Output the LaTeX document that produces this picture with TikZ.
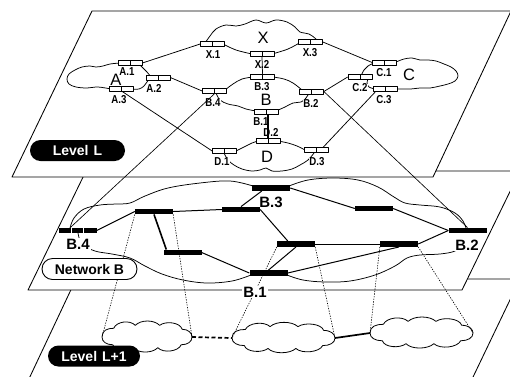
\documentclass[tikz,border=0pt]{standalone}
\usepackage{fontspec}
\setmainfont{Liberation Sans}
\usetikzlibrary{calc}
\newcommand\nar[1]{\scalebox{0.84}[1]{#1}}
\tikzset{
  cloudpic/.pic={
    \draw[line width=0.8pt,fill=white] (0,0)
      .. controls (0,-7) and (6,-9) .. (13,-9)
      .. controls (16,-16) and (31,-18) .. (37,-12)
      .. controls (43,-18) and (58,-18) .. (64,-12)
      .. controls (71,-17) and (87,-15) .. (89,-8)
      .. controls (96,-8) and (100,-4) .. (100,0)
      .. controls (100,5) and (95,8) .. (88,8)
      .. controls (85,15) and (68,17) .. (62,11)
      .. controls (56,17) and (40,17) .. (35,11)
      .. controls (29,16) and (14,15) .. (12,8)
      .. controls (5,8) and (0,5) .. (0,0) -- cycle;
    \coordinate (-L) at (0,0);
    \coordinate (-R) at (100,0);
  }
}
\begin{document}
\begin{tikzpicture}[x=1pt,y=-1pt,line join=round,
  plane/.style={draw,fill=white,line width=0.85pt},
  gw/.style={draw,fill=white,rectangle,minimum width=24pt,minimum height=4.8pt,inner sep=0pt,line width=0.7pt,
    path picture={\draw[line width=0.7pt] (path picture bounding box.north) -- (path picture bounding box.south);}},
  glab/.style={font=\fontsize{11.5}{11.5}\selectfont\bfseries,inner sep=0.3pt,fill=white},
  cl/.style={font=\fontsize{16.5}{16.5}\selectfont,inner sep=0pt},
  nbar/.style={fill=black,rectangle,minimum width=38pt,minimum height=5.5pt,inner sep=0pt},
  nlab/.style={font=\fontsize{15}{15}\selectfont\bfseries,inner sep=1pt,fill=white},
  pill/.style={rectangle,rounded corners=10.5pt,minimum width=95pt,minimum height=21pt,inner sep=0pt,font=\fontsize{14}{14}\selectfont\bfseries},
  lnk/.style={line width=0.75pt},
  nlnk/.style={line width=1pt},
  proj/.style={line width=0.6pt,dash pattern=on 1.3pt off 1.3pt},
  outl/.style={line width=0.75pt},
]
\path[use as bounding box] (0,0) rectangle (510,376);
\clip (0,0) rectangle (510,376);

% ---------------- Level L+1 ----------------
\draw[plane] (76,279) -- (520,279) -- (462,400) -- (19,400) -- cycle;
\pic[xscale=0.9,yscale=0.97] (c1) at (102,337) {cloudpic};
\pic[xscale=1.03,yscale=0.95] (c2) at (232,338) {cloudpic};
\pic[xscale=1.03,yscale=0.97] (c3) at (370,333) {cloudpic};
\draw[line width=1.7pt,dash pattern=on 4pt off 2.5pt] (c1-R) -- (c2-L);
\draw[line width=1.7pt] (c2-R) -- (c3-L);
\node[pill,fill=black,text=white,minimum width=92pt] (lvlL1) at (94,356) {Level\hspace{5pt}L+1};

% ---------------- Network B ----------------
\draw[plane] (86,171) -- (520,171) -- (462,290) -- (28,290) -- cycle;

\node[nbar] (nB4) at (77.5,230.5) {};
\node[nbar] (nN1) at (154,211.5) {};
\node[nbar] (nN2) at (241,209.5) {};
\node[nbar] (nB3) at (271,188) {};
\node[nbar] (nN3) at (182.5,252.5) {};
\node[nbar] (nN5) at (296,244) {};
\node[nbar] (nN6) at (374,208.5) {};
\node[nbar] (nN7) at (399,244) {};
\node[nbar] (nB2) at (467.5,230.5) {};
\node[nbar] (nB1) at (268.5,273) {};

% projection lines to Level L+1
\draw[proj] (nN1.south west) -- (c1-L);
\draw[proj] (nN1.south east) -- (c1-R);
\draw[proj] (nN5.south west) -- (c2-L);
\draw[proj] (nN5.south east) -- (c2-R);
\draw[proj] (nN7.south west) -- (c3-L);
\draw[proj] (nN7.south east) -- (c3-R);

% network B outline
\draw[outl] plot[smooth,tension=0.6] coordinates {(70,228) (74,218) (84,209) (100,205) (116,204) (130,203) (145,196) (168,188) (200,183) (230,181) (253,186)};
\draw[outl] plot[smooth,tension=0.6] coordinates {(289,186) (308,180) (333,178) (358,180) (378,187) (394,197) (405,203) (420,205) (440,207) (455,213) (463,221) (466,228)};
\draw[outl] plot[smooth,tension=0.6] coordinates {(463,244) (455,251) (440,254) (420,255) (407,258) (395,266) (375,275) (350,281) (325,282) (303,280) (287,275)};
\draw[outl] plot[smooth,tension=0.6] coordinates {(251,275) (232,281) (207,283) (183,280) (162,274) (145,266) (130,258) (112,254) (95,251) (82,244) (78,233)};

\node[nlab] (lB4) at (78,244) {B.4};
\node[nlab] (lB3) at (271,202) {B.3};
\node[nlab] (lB2) at (467,245) {B.2};
\node[nlab] (lB1) at (255,292) {B.1};

% network B links
\draw[nlnk] (nB4.east) -- (nN1.west);
\draw[nlnk] (nN1.east) -- (nN2.west);
\draw[line width=1.6pt] (nN1.south) -- ($(nN3.north west)+(3,0)$);
\draw[nlnk] (nN3.east) -- (nB1.west);
\draw[nlnk] (nN2.north) -- ($(nB3.south west)+(10,0)$);
\draw[nlnk] (nN2.east) -- ($(nN5.north west)+(11,0)$);
\draw[nlnk] (nB3.east) -- (nN6.west);
\draw[nlnk] (nN6.east) -- (nB2.west);
\draw[nlnk] (nN5.east) -- (nN7.west);
\draw[nlnk] (nN7.east) -- (nB2.west);
\draw[nlnk] (nB1.east) -- (nN7.south);
\draw[nlnk] (nB1.north) -- (nN5.south);

\foreach \n in {nB4,nN1,nN2,nB3,nN3,nN5,nN6,nN7,nB2,nB1} \node[nbar] at (\n) {};
\draw[white,line width=0.6pt] ($(nB4.north west)+(13,0)$) -- ($(nB4.south west)+(13,0)$)
  ($(nB4.north west)+(25,0)$) -- ($(nB4.south west)+(25,0)$);

\node[pill,draw,fill=white,line width=0.9pt] (netB) at (89.5,269) {Network B};

% ---------------- Level L ----------------
\draw[plane] (92,11) -- (511,11) -- (433,177) -- (12,177) -- cycle;

% cloud outlines
% X
\draw[outl] plot[smooth,tension=0.6] coordinates {(205,43) (210,36) (216,29) (226,25) (236,26) (245,24) (256,20) (266,23) (276,20) (287,22) (295,27) (300,32) (309,34) (316,39) (318,42)};
\draw[outl] plot[smooth,tension=0.6] coordinates {(223,44) (236,50) (252,54)};
\draw[outl] plot[smooth,tension=0.6] coordinates {(272,54) (288,49) (301,42)};
% A
\draw[outl] plot[smooth,tension=0.6] coordinates {(120,63) (110,64) (103,66) (96,67) (90,66) (82,67) (75,70) (69,74) (67,79) (69,84) (76,87) (87,88) (98,87) (111,89)};
\draw[outl] plot[smooth,tension=0.6] coordinates {(132,89) (139,89) (144,86) (147,82) (150,78)};
\draw[outl] plot[smooth,tension=0.6] coordinates {(139,64) (143,68) (147,72) (151,77)};
% B
\draw[outl] plot[smooth,tension=0.6] coordinates {(225,90) (233,84) (242,79) (253,77)};
\draw[outl] plot[smooth,tension=0.6] coordinates {(273,77) (284,79) (293,83) (302,90)};
\draw[outl] plot[smooth,tension=0.6] coordinates {(216,93) (220,100) (228,104) (238,106) (246,109) (256,111)};
\draw[outl] plot[smooth,tension=0.6] coordinates {(276,111) (285,107) (293,103) (301,102) (306,98) (309,93)};
% C
\draw[outl] plot[smooth,tension=0.6] coordinates {(396,62) (404,59) (412,58) (420,60) (428,60) (436,61) (444,64) (451,67) (456,71) (458,76) (455,81) (448,84) (440,86) (430,88) (420,88) (410,89) (396,89)};
\draw[outl] plot[smooth,tension=0.6] coordinates {(374,63) (368,66) (364,70) (361,76)};
\draw[outl] plot[smooth,tension=0.6] coordinates {(375,89) (369,87) (367,83) (368,79)};
% D
\draw[outl] plot[smooth,tension=0.6] coordinates {(236,151) (244,147) (252,143) (258,141)};
\draw[outl] plot[smooth,tension=0.6] coordinates {(278,141) (288,143) (297,146) (305,150)};
\draw[outl] plot[smooth,tension=0.6] coordinates {(224,153) (228,160) (234,165) (242,169) (252,171) (260,170) (266,168) (272,171) (282,171) (292,169) (300,165) (308,160) (314,153)};

% gateway labels
\node[glab] (lX1) at (213,55) {\nar{X.1}};
\node[glab] (lX2) at (262,64) {\nar{X.2}};
\node[glab] (lX3) at (310,53) {\nar{X.3}};
\node[glab] (lA1) at (127,72) {\nar{A.1}};
\node[glab] (lA2) at (154,88) {\nar{A.2}};
\node[glab] (lA3) at (119,100) {\nar{A.3}};
\node[glab] (lB3L) at (262,87) {\nar{B.3}};
\node[glab] (lB4L) at (213,103) {\nar{B.4}};
\node[glab] (lB2L) at (311,103) {\nar{B.2}};
\node[glab] (lB1L) at (261,122) {\nar{B.1}};
\node[glab] (lD2) at (271,132) {\nar{D.2}};
\node[glab] (lD1) at (222,162) {\nar{D.1}};
\node[glab] (lD3) at (317,162) {\nar{D.3}};
\node[glab] (lC1) at (384,73) {\nar{C.1}};
\node[glab] (lC2) at (360,88) {\nar{C.2}};
\node[glab] (lC3) at (384,100) {\nar{C.3}};

% cloud letters
\node[cl] (tX) at (263,38) {X};
\node[cl] (tA) at (116,80) {A};
\node[cl] (tB) at (266,100) {B};
\node[cl] (tC) at (409,75) {C};
\node[cl] (tD) at (267,157) {D};

% gateways
\node[gw] (X1) at (212.5,44) {};
\node[gw] (X2) at (262,54) {};
\node[gw] (X3) at (310.5,42) {};
\node[gw] (A1) at (130,63) {};
\node[gw] (A2) at (158,77.5) {};
\node[gw] (A3) at (121,89) {};
\node[gw] (B4) at (214.5,91) {};
\node[gw] (B3) at (262.5,76.5) {};
\node[gw] (B2) at (311.5,91.5) {};
\node[gw] (B1) at (266,111.5) {};
\node[gw] (D1) at (224.5,151) {};
\node[gw] (D2) at (268,141) {};
\node[gw] (D3) at (316,150) {};
\node[gw] (C1) at (384.5,62.5) {};
\node[gw] (C2) at (360,77) {};
\node[gw] (C3) at (385,89) {};

% Level L links
\draw[lnk] (A1.east) -- (X1.west);
\draw[lnk] (A2.east) -- (B4.west);
\draw[lnk] (A3.-60) -- (D1.west);
\draw[lnk] (X3.east) -- (C1.west);
\draw[lnk] (B2.east) -- (C2.west);
\draw[lnk] (C3.-164) -- (D3.21);
\draw[lnk] (X2.south) -- (B3.north);
\draw[line width=1.4pt] (D2.north |- B1.south) -- (D2.north);

\node[pill,fill=black,text=white] (lvlL) at (77.5,150.5) {Level\hspace{5pt}L};

% projection lines from Level L to Network B
\draw[line width=0.65pt] (B4.south) -- ($(nB4.north west)+(12,0)$);
\draw[line width=0.65pt] (B2.east) -- (nB2.north);
\end{tikzpicture}
\end{document}
